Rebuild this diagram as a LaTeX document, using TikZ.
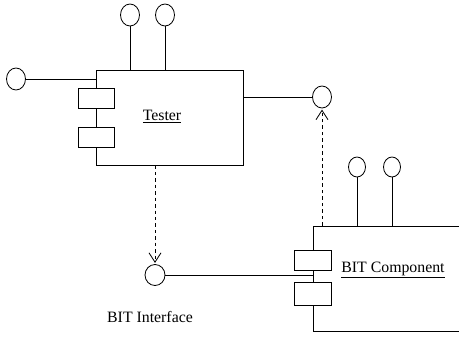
\documentclass[tikz,border=0pt]{standalone}
\usepackage{fontspec}
\setmainfont{Liberation Serif}
\usetikzlibrary{arrows.meta, positioning, calc, shapes.geometric}
\tikzset{
    component/.style={draw, rectangle, inner sep=0pt},
    port/.style={draw, fill=white, rectangle, minimum width=1.08cm, minimum height=0.6cm, inner sep=0pt},
    lolli/.style={draw, ellipse, minimum width=0.57cm, minimum height=0.66cm, inner sep=0pt},
    smalllolli/.style={draw, ellipse, minimum width=0.51cm, minimum height=0.6cm, inner sep=0pt},
    % dependency arrow: dashed with an open tip
    depends/.style={dashed, dash pattern=on 3pt off 2.5pt, -{Straight Barb[length=2.8mm, width=3.6mm]}, shorten >=1pt},
    compname/.style={font=\fontsize{13.5}{16}\selectfont},
}

\begin{document}
\begin{tikzpicture}[x=0.03cm, y=-0.03cm, line width=0.7pt]
    \useasboundingbox (0,0) rectangle (459,336);
    \clip (0,0) rectangle (459,336);

    % Tester
    \node[component, minimum width=4.41cm, minimum height=2.85cm] (tester) at (169.5,117.5) {};
    \node[compname] (testername) at (162,117) {\underline{Tester}};
    \node[port] (tport1) at (96,98) {};
    \node[port] (tport2) at (96,137) {};

    \node[lolli] (ttop1) at (130,15) {};
    \node[lolli] (ttop2) at (165,15) {};
    \draw (ttop1.south) -- (ttop1.south |- tester.north);
    \draw (ttop2.south) -- (ttop2.south |- tester.north);

    \node[lolli] (tleft) at (16,79) {};
    \draw (tleft.east) -- (tleft.east -| tester.west);

    \node[lolli] (tright) at (322,97) {};
    \draw (tester.east |- tright.west) -- (tright.west);

    % BIT Component
    \node[component, minimum width=5.1cm, minimum height=3.15cm] (bit) at (398,278.5) {};
    \node[compname] (bitname) at (393,270) {\underline{BIT Component}};
    \node[port, minimum width=1.11cm] (bport1) at (313,260.5) {};
    \node[port, minimum width=1.11cm, minimum height=0.69cm] (bport2) at (313,293.5) {};

    \node[smalllolli] (btop1) at (357,167) {};
    \node[smalllolli] (btop2) at (392,167) {};
    \draw (btop1.south) -- (btop1.south |- bit.north);
    \draw (btop2.south) -- (btop2.south |- bit.north);

    \node[lolli, minimum width=0.6cm, minimum height=0.63cm] (bitif) at (155,275) {};
    \draw (bitif.east) -- (bitif.east -| bit.west);
    \node[compname] (bitiflabel) at (150,317) {BIT Interface};

    \draw[depends] (tright.south |- bit.north) -- (tright.south);
    \draw[depends] (bitif.north |- tester.south) -- (bitif.north);
\end{tikzpicture}
\end{document}
